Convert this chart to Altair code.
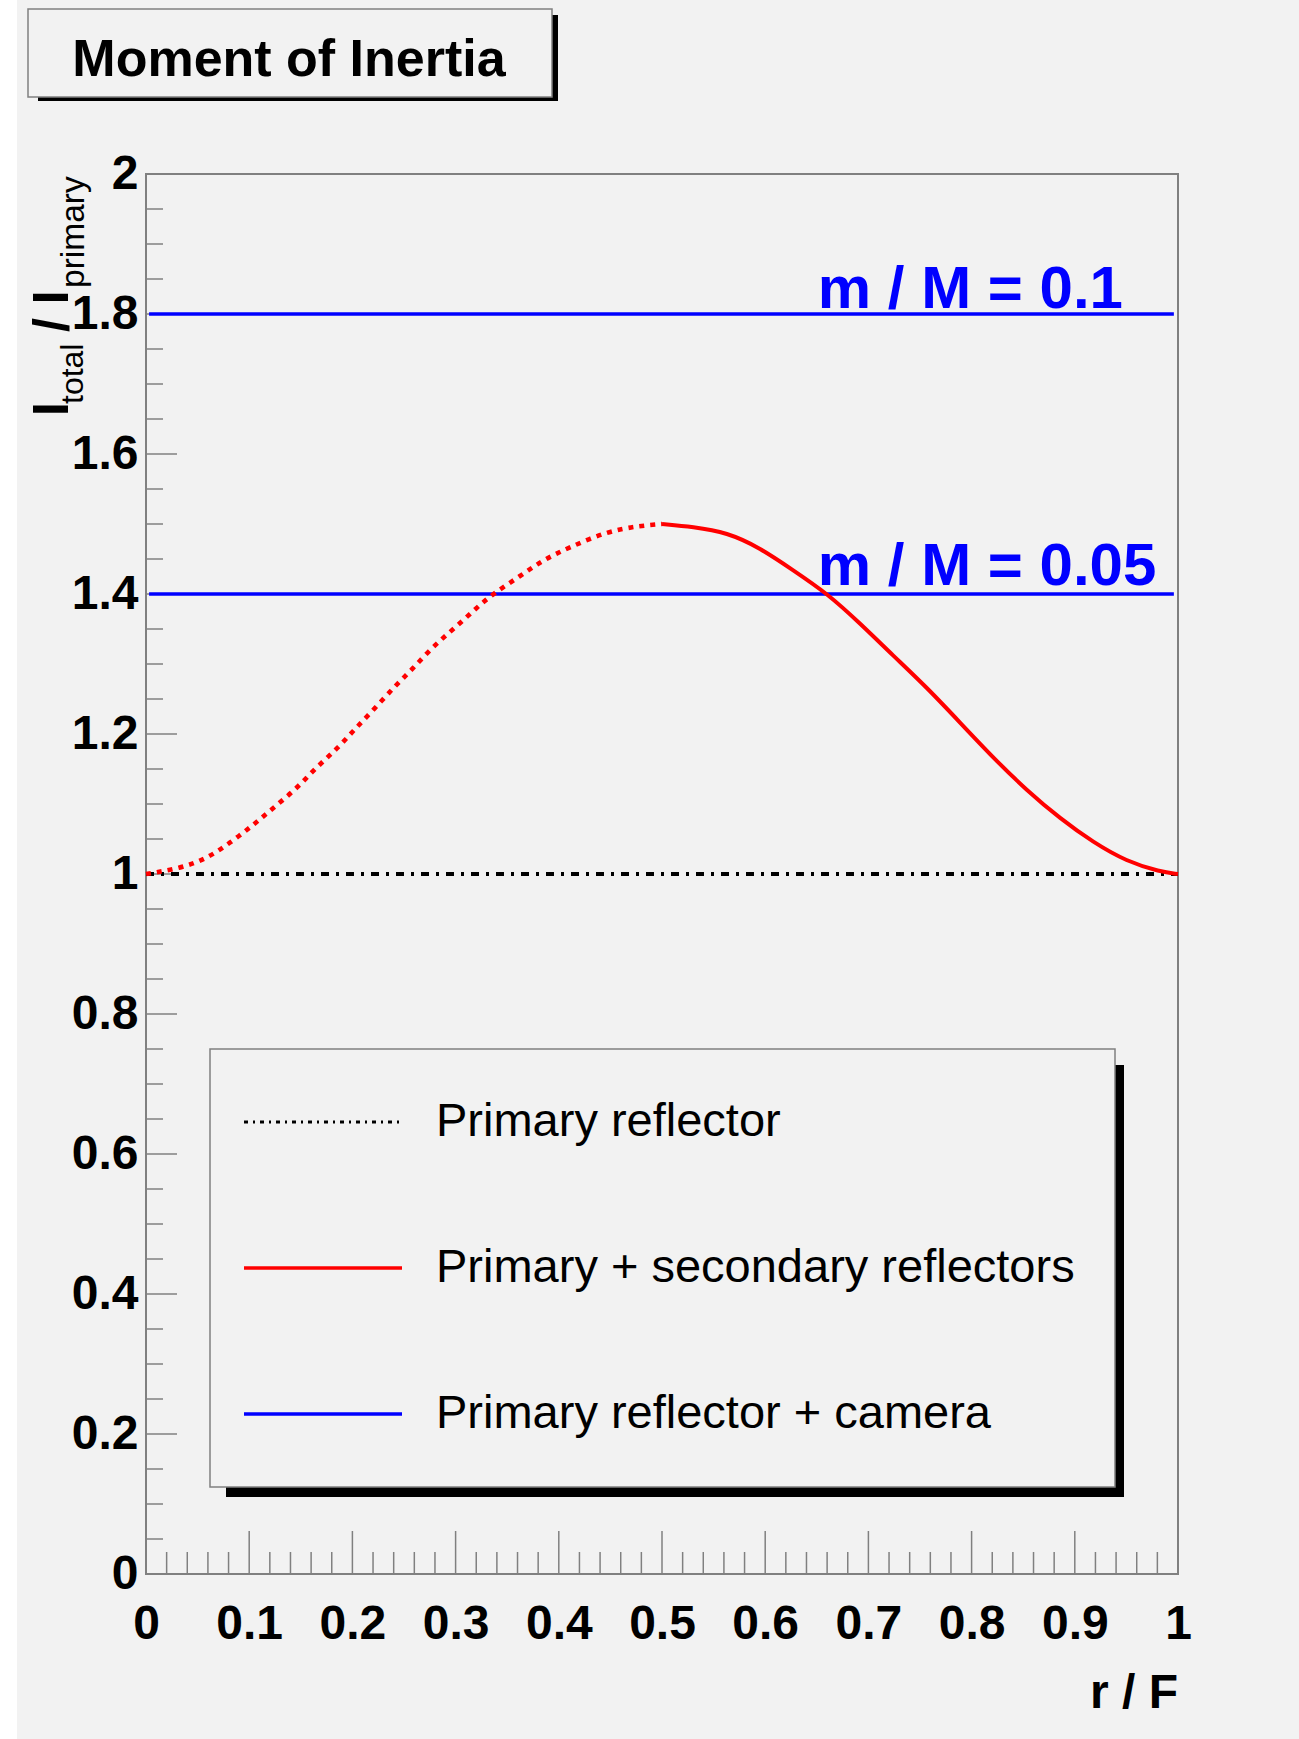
import altair as alt
import pandas as pd
import numpy as np

# ---------------- data ----------------
curve_x = [0.0, 0.033, 0.059, 0.081, 0.104, 0.123, 0.146, 0.164, 0.186, 0.203,
           0.222, 0.241, 0.259, 0.278, 0.299, 0.320, 0.337, 0.362, 0.385, 0.411,
           0.446, 0.476, 0.500, 0.530, 0.563, 0.595, 0.627, 0.660, 0.692, 0.724,
           0.757, 0.789, 0.821, 0.853, 0.886, 0.918, 0.950, 0.983, 1.0]
curve_y = [1.000, 1.008, 1.022, 1.044, 1.070, 1.094, 1.122, 1.151, 1.180, 1.208,
           1.237, 1.268, 1.294, 1.325, 1.351, 1.380, 1.401, 1.425, 1.449, 1.467,
           1.489, 1.497, 1.500, 1.496, 1.488, 1.466, 1.434, 1.401, 1.358, 1.312,
           1.266, 1.216, 1.166, 1.120, 1.079, 1.045, 1.018, 1.003, 1.000]
dotted_until = 0.5

primary_x = [0.0, 1.0]
primary_y = [1.0, 1.0]

camera_levels = [1.8, 1.4]
camera_labels = ["m / M = 0.1", "m / M = 0.05"]
camera_x_start = 0.003
camera_x_end = 0.996
camera_label_x = 0.651
camera_label_y = [1.809, 1.413]

x_tick_values = [0.0, 0.1, 0.2, 0.3, 0.4, 0.5, 0.6, 0.7, 0.8, 0.9, 1.0]
y_tick_values = [0.0, 0.2, 0.4, 0.6, 0.8, 1.0, 1.2, 1.4, 1.6, 1.8, 2.0]
x_minor_step = 0.02
y_minor_step = 0.05

legend_labels = ["Primary reflector", "Primary + secondary reflectors",
                 "Primary reflector + camera"]
title_text = "Moment of Inertia"

# ---------------- style ----------------
W, H = 1032, 1400
PAD = {"left": 146, "top": 174, "right": 121, "bottom": 165}
FONT = "Liberation Sans"
GREY = "#808080"
BG = "#f2f2f2"
RED = "#ff0000"
BLUE = "#0000ff"

xs = alt.Scale(domain=[0, 1], nice=False, zero=False)
ys = alt.Scale(domain=[0, 2], nice=False, zero=False)

one = pd.DataFrame({"a": [0]})

x_axis = alt.Axis(values=x_tick_values, format=".1~f", labelFont=FONT,
                  labelFontSize=48, labelFontWeight="bold", labelColor="black",
                  labelPadding=26, labelFlush=False, labelOverlap=False,
                  ticks=False, domain=False, grid=False, title=None)
y_axis = alt.Axis(values=y_tick_values, format=".1~f", labelFont=FONT,
                  labelFontSize=48, labelFontWeight="bold", labelColor="black",
                  labelPadding=8, labelFlush=False, labelOverlap=False,
                  ticks=False, domain=False, grid=False, title=None)


def X(field):
    return alt.X(field, scale=xs, axis=x_axis)


def Y(field):
    return alt.Y(field, scale=ys, axis=y_axis)


layers = []

# white strip at the left edge of the canvas
layers.append(alt.Chart(one).mark_rect(fill="white").encode(
    x=alt.value(-146), x2=alt.value(-129), y=alt.value(-174), y2=alt.value(1565)))

# title box with shadow
layers.append(alt.Chart(one).mark_rect(fill="black").encode(
    x=alt.value(-108), x2=alt.value(412), y=alt.value(-159), y2=alt.value(-73)))
layers.append(alt.Chart(one).mark_rect(fill=BG, stroke=GREY, strokeWidth=1.5).encode(
    x=alt.value(-118), x2=alt.value(406), y=alt.value(-165), y2=alt.value(-77)))
layers.append(alt.Chart(one).mark_text(
    font=FONT, fontSize=52, fontWeight="bold", color="black",
    align="center", baseline="alphabetic", text=title_text).encode(
    x=alt.value(143), y=alt.value(-98)))

# ticks (inside the frame)
x_minor = [float(v) for v in np.round(np.arange(0, 1.0001, x_minor_step), 3)
           if not np.isclose(v * 10, round(v * 10))]
y_minor = [float(v) for v in np.round(np.arange(0, 2.0001, y_minor_step), 3)
           if not np.isclose(v * 5, round(v * 5))]

layers.append(alt.Chart(pd.DataFrame({"t": x_tick_values})).mark_rule(
    color=GREY, strokeWidth=1.5).encode(
    x=X("t:Q"), y=alt.value(H), y2=alt.value(H - 43)))
layers.append(alt.Chart(pd.DataFrame({"t": x_minor})).mark_rule(
    color=GREY, strokeWidth=1.5).encode(
    x=X("t:Q"), y=alt.value(H), y2=alt.value(H - 22)))
layers.append(alt.Chart(pd.DataFrame({"t": y_tick_values})).mark_rule(
    color=GREY, strokeWidth=1.5).encode(
    y=Y("t:Q"), x=alt.value(0), x2=alt.value(31)))
layers.append(alt.Chart(pd.DataFrame({"t": y_minor})).mark_rule(
    color=GREY, strokeWidth=1.5).encode(
    y=Y("t:Q"), x=alt.value(0), x2=alt.value(17)))

# primary reflector (dash-dot black)
layers.append(alt.Chart(pd.DataFrame({"x": primary_x, "y": primary_y})).mark_line(
    color="black", strokeWidth=3.8, strokeDash=[8, 7, 3, 7]).encode(
    x=X("x:Q"), y=Y("y:Q")))

# camera lines
cam = pd.DataFrame({"x0": [camera_x_start] * len(camera_levels),
                    "x1": [camera_x_end] * len(camera_levels),
                    "y": camera_levels})
layers.append(alt.Chart(cam).mark_rule(color=BLUE, strokeWidth=3.4).encode(
    x=X("x0:Q"), x2="x1:Q", y=Y("y:Q")))

# secondary reflector curve
cdf = pd.DataFrame({"x": curve_x, "y": curve_y})
dotted = cdf[cdf["x"] <= dotted_until]
solid = cdf[cdf["x"] >= dotted_until]
layers.append(alt.Chart(dotted).mark_line(
    color=RED, strokeWidth=4.6, strokeDash=[5, 6],
    interpolate="basis").encode(x=X("x:Q"), y=Y("y:Q")))
layers.append(alt.Chart(solid).mark_line(
    color=RED, strokeWidth=4, interpolate="basis").encode(
    x=X("x:Q"), y=Y("y:Q")))

# camera labels
lab = pd.DataFrame({"x": [camera_label_x] * len(camera_labels),
                    "y": camera_label_y, "t": camera_labels})
layers.append(alt.Chart(lab).mark_text(
    font=FONT, fontSize=60, fontWeight="bold", color=BLUE,
    align="left", baseline="alphabetic").encode(
    x=X("x:Q"), y=Y("y:Q"), text="t:N"))

# legend box with shadow
layers.append(alt.Chart(one).mark_rect(fill="black").encode(
    x=alt.value(80), x2=alt.value(978), y=alt.value(891), y2=alt.value(1323)))
layers.append(alt.Chart(one).mark_rect(fill=BG, stroke=GREY, strokeWidth=1.5).encode(
    x=alt.value(64), x2=alt.value(969), y=alt.value(875), y2=alt.value(1313)))

legend_styles = [
    dict(color="black", strokeWidth=3, strokeDash=[4, 5, 2, 5]),
    dict(color=RED, strokeWidth=3.6),
    dict(color=BLUE, strokeWidth=3.6),
]
for i, (lbl, st) in enumerate(zip(legend_labels, legend_styles)):
    yy = 948 + i * 146
    layers.append(alt.Chart(one).mark_rule(**st).encode(
        x=alt.value(98), x2=alt.value(256), y=alt.value(yy)))
    layers.append(alt.Chart(one).mark_text(
        font=FONT, fontSize=47, color="black", align="left", baseline="middle",
        text=lbl).encode(x=alt.value(290), y=alt.value(yy)))

# y-axis title: I_total / I_primary (rotated)
ytitle = [
    ("I", 50, "bold", -78, 242),
    ("total", 32, "normal", -63, 230),
    ("/ I", 50, "bold", -78, 158),
    ("primary", 33.5, "normal", -62, 114),
]
for txt, fs, fw, px, py in ytitle:
    layers.append(alt.Chart(one).mark_text(
        font=FONT, fontSize=fs, fontWeight=fw, color="black", angle=270,
        align="left", baseline="alphabetic", text=txt).encode(
        x=alt.value(px), y=alt.value(py)))

# x-axis title
layers.append(alt.Chart(one).mark_text(
    font=FONT, fontSize=48, fontWeight="bold", color="black",
    align="right", baseline="alphabetic", text="r / F").encode(
    x=alt.value(W), y=alt.value(1534)))

chart = alt.layer(*layers).properties(
    width=W, height=H, padding=PAD,
    autosize=alt.AutoSizeParams(type="none"),
    background=BG,
).configure_view(stroke=GREY, strokeWidth=2, fill=BG)

chart.save("out.html", embed_options={"renderer": "svg", "actions": False})
